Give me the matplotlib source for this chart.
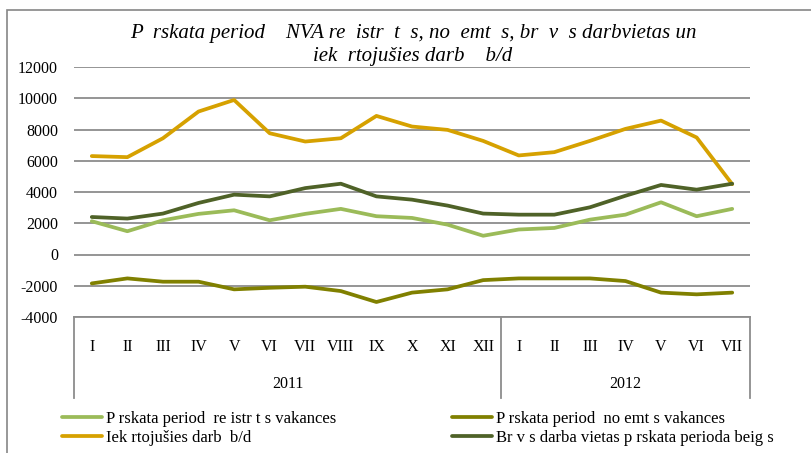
import matplotlib
matplotlib.use("Agg")
import matplotlib.pyplot as plt
from matplotlib.patches import Rectangle
from matplotlib.lines import Line2D
import matplotlib.transforms as mtransforms

months = ["I", "II", "III", "IV", "V", "VI", "VII", "VIII", "IX", "X", "XI", "XII",
          "I", "II", "III", "IV", "V", "VI", "VII"]
years = ["2011", "2012"]
year_len = [12, 7]

registretas = [2130, 1490, 2190, 2600, 2830, 2190, 2600, 2920, 2450, 2340, 1910, 1200,
               1600, 1700, 2230, 2550, 3340, 2450, 2920]
nonemtas = [-1850, -1530, -1740, -1740, -2230, -2130, -2060, -2340, -3040, -2440, -2230, -1640,
            -1530, -1530, -1530, -1700, -2440, -2550, -2440]
iekartojusies = [6300, 6230, 7440, 9150, 9890, 7760, 7230, 7440, 8870, 8190, 7975, 7270,
                 6340, 6550, 7270, 8040, 8570, 7490, 4500]
brivas = [2400, 2300, 2620, 3300, 3830, 3720, 4250, 4530, 3720, 3510, 3130, 2620,
          2550, 2550, 3020, 3760, 4450, 4150, 4530]

labels = ["P rskata period  re istr t s vakances",
          "P rskata period  no emt s vakances",
          "Iek rtojušies darb  b/d",
          "Br v s darba vietas p rskata perioda beig s"]
colors = ["#9BBB59", "#808000", "#D6A100", "#4F6228"]
title = ("P  rskata period    NVA re  istr  t  s, no  emt  s, br  v  s darbvietas un\n"
         "iek  rtojušies darb    b/d")

plt.rcParams['font.family'] = ['Liberation Serif', 'DejaVu Serif']
plt.rcParams['axes.unicode_minus'] = False

W, H = 812, 453
fig = plt.figure(figsize=(W / 100, H / 100), dpi=100)
ax = fig.add_axes([74 / W, 1 - 317 / H, (750 - 74) / W, (317 - 67) / H])

# chart border (cut off on right and bottom in the original)
fig.patches.append(Rectangle((7 / W, -0.1), 1.2, 1.1 - 10 / H, transform=fig.transFigure,
                             fill=False, edgecolor="#868686", linewidth=1.2))

x = list(range(len(months)))
series = [registretas, nonemtas, iekartojusies, brivas]
handles = []
for s, c, l in zip(series, colors, labels):
    h, = ax.plot(x, s, color=c, linewidth=2.7, solid_capstyle="round", label=l)
    handles.append(h)

ax.set_ylim(-4000, 12000)
ax.set_xlim(-0.5, len(months) - 0.5)
ax.set_yticks(range(-4000, 12001, 2000))
ax.yaxis.grid(True, color="#8C8C8C", linewidth=1.3)
ax.set_axisbelow(True)
ax.tick_params(axis="y", length=0, pad=11.5, labelsize=11.5)
ax.tick_params(axis="x", length=0, pad=15.5, labelsize=11.5)
ax.set_xticks(x)
ax.set_xticklabels(months)
for side in ["left", "right", "top"]:
    ax.spines[side].set_visible(False)
ax.spines["bottom"].set_color("#8C8C8C")
ax.spines["bottom"].set_linewidth(1.3)

# two-level category axis: separators and year labels
trans = mtransforms.blended_transform_factory(ax.transData, ax.transAxes)
drop = 81 / (317 - 67)
start = 0
bounds = [-0.5]
for yr, n in zip(years, year_len):
    ax.text(start + (n - 1) / 2, -67 / (317 - 67), yr, transform=trans,
            ha="center", va="center", fontsize=11.5)
    start += n
    bounds.append(start - 0.5)
for b in bounds:
    ax.add_line(Line2D([b, b], [0, -drop], transform=trans, color="#8C8C8C",
                       linewidth=1.3, clip_on=False))

fig.text(413 / W, 1 - 45 / H, title, ha="center", va="center", fontsize=15,
         style="italic", linespacing=1.3)

# legend in two columns, placed separately
cols = [[0, 2], [1, 3]]
xs = [62, 452]
for idx, x0 in zip(cols, xs):
    fig.legend([handles[i] for i in idx], [labels[i] for i in idx], ncol=1,
               loc="upper left", bbox_to_anchor=(x0 / W, 1 - 411 / H), frameon=False,
               fontsize=12, handlelength=2.4, handletextpad=0.25,
               labelspacing=0.15, borderpad=0, borderaxespad=0)

fig.savefig("out.png", dpi=100)
